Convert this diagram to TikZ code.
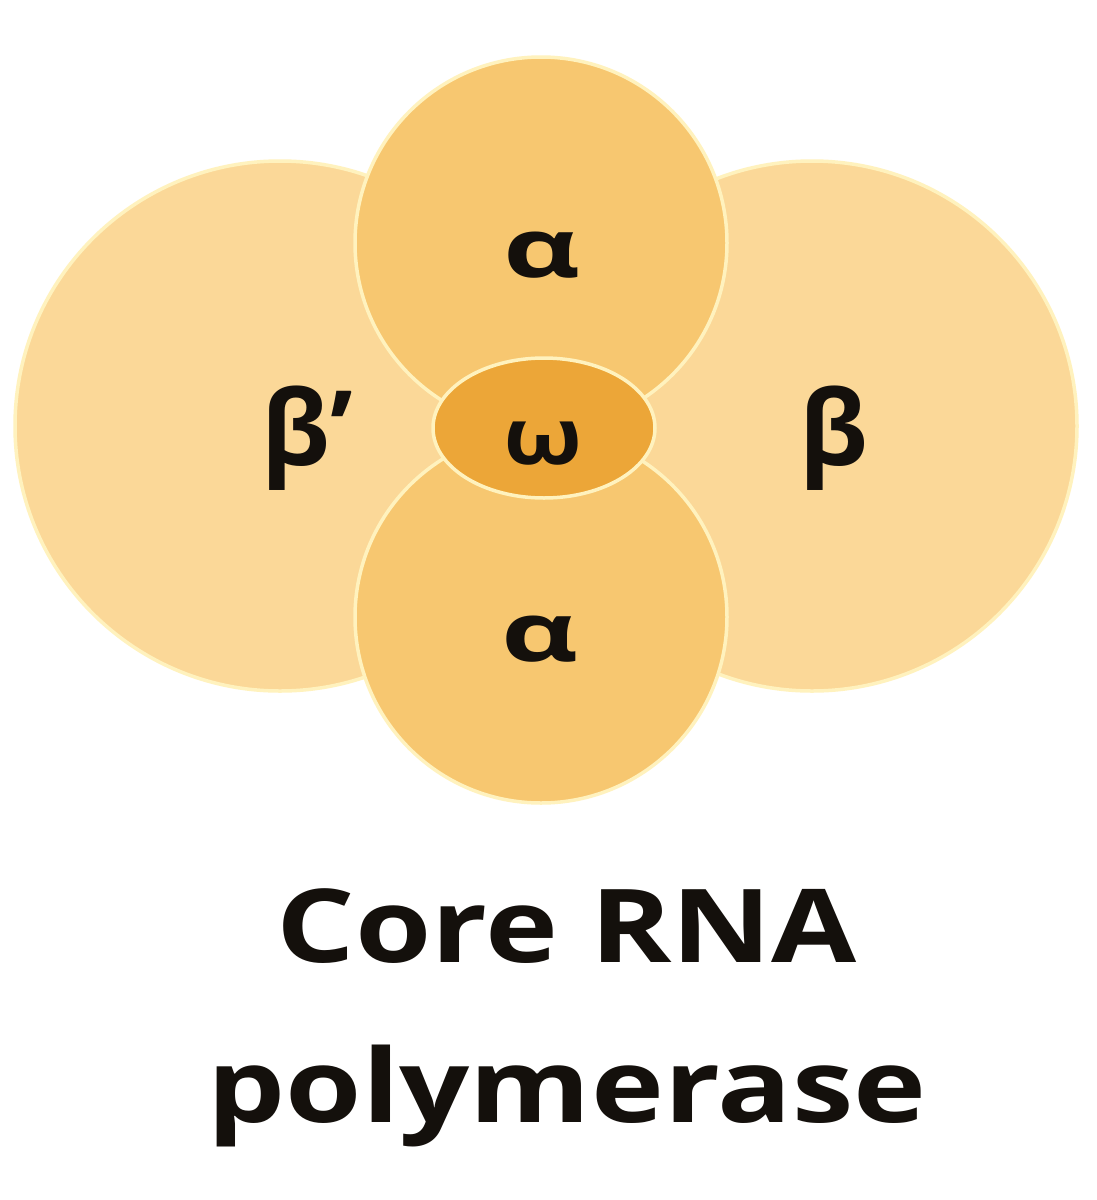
\documentclass[tikz,border=0pt]{standalone}
\usepackage{fontspec}
\usepackage{graphicx}
\setmainfont{Open Sans}
\begin{document}
\begin{tikzpicture}[x=1pt,y=-1pt,
  outline/.style={draw=edgecol,line width=3.5pt},
  bigsub/.style={outline,fill=betacol},
  alphasub/.style={outline,fill=alphacol},
  omegasub/.style={outline,fill=omegacol},
  greek/.style={text=inkcol,inner sep=0pt,anchor=base},
  greekA/.style={greek,font=\fontsize{82}{86}\selectfont\bfseries},
  greekB/.style={greek,font=\fontsize{104}{110}\selectfont\bfseries},
  greekW/.style={greek,font=\fontsize{78}{82}\selectfont\bfseries},
  caption/.style={font=\fontsize{102}{110}\selectfont\bfseries,text=inkcol,inner sep=0pt,anchor=base}]
\definecolor{betacol}{RGB}{251,216,152}
\definecolor{alphacol}{RGB}{247,199,112}
\definecolor{omegacol}{RGB}{236,166,56}
\definecolor{edgecol}{RGB}{255,242,190}
\definecolor{inkcol}{RGB}{20,16,12}
\useasboundingbox[fill=white] (0,0) rectangle (1097,1200);
% large subunits
\fill[bigsub] (280,426) circle[radius=265];
\fill[bigsub] (812,426) circle[radius=265];
% alpha subunits
\fill[alphasub] (541,243) circle[radius=186];
\fill[alphasub] (541,617) circle[radius=186];
% omega
\fill[omegasub] (544,428) ellipse[x radius=111,y radius=70];
% labels
\node[greekA] (a1) at (542,277) {\scalebox{1.45}[1]{α}};
\node[greekA] (a2) at (540,661) {\scalebox{1.45}[1]{α}};
\node[greekB] (bp) at (307,465) {β’};
\node[greekB] (b) at (834,465) {β};
\node[greekW] (w) at (543,464) {\scalebox{1.18}[1]{ω}};
\node[caption] (t1) at (567,962) {\scalebox{1.21}[1]{Core RNA}};
\node[caption] (t2) at (567,1122) {\scalebox{1.21}[1]{polymerase}};
\end{tikzpicture}
\end{document}
